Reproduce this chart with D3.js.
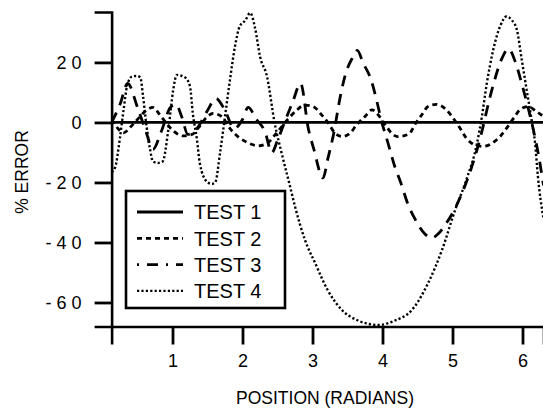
<!DOCTYPE html>
<html><head><meta charset="utf-8">
<script src="https://cdn.jsdelivr.net/npm/d3@7/dist/d3.min.js"></script>
<style>body{margin:0;background:#fff}svg{display:block}</style>
</head><body><svg id="c" width="543" height="415"></svg>
<script>
const seriesNames = ["TEST 1","TEST 2","TEST 3","TEST 4"];
const xTicks = [1,2,3,4,5,6];
const yTicks = [20,0,-20,-40,-60];

const test1X = [0.13, 6.3];
const test1Y = [0, 0];

const test2X = [0.13,0.22,0.3,0.4,0.5,0.6,0.72,0.82,0.92,1.02,1.15,1.28,1.38,1.48,1.58,1.7,1.82,1.95,2.1,2.22,2.35,2.47,2.61,2.77,2.89,3.01,3.13,3.22,3.32,3.42,3.54,3.63,3.75,3.85,3.94,4.04,4.13,4.22,4.3,4.39,4.46,4.56,4.65,4.77,4.89,5.01,5.11,5.2,5.32,5.44,5.56,5.68,5.77,5.89,5.96,6.08,6.2,6.3];
const test2Y = [1,-2,-3.5,-1.5,1,3.5,5,2.5,-0.5,-3,-4.5,-4,-1.5,1.5,3,2,-2,-5,-7,-7.8,-7,-4,0,4,5.8,5.3,2.5,0,-3.5,-4.7,-3.5,-0.8,2,4.2,2.5,-0.8,-3.6,-4.7,-4.5,-3.6,-0.8,2.5,5.3,6,4.7,1.4,-2,-5.3,-7.5,-8,-7,-4.7,-2,2,4.2,5.3,3.6,2];

const test3X = [0.13,0.25,0.36,0.5,0.62,0.72,0.84,0.97,1.05,1.13,1.22,1.35,1.5,1.62,1.75,1.88,2.0,2.08,2.2,2.32,2.42,2.5,2.6,2.72,2.83,2.94,3.02,3.15,3.22,3.3,3.4,3.47,3.57,3.64,3.72,3.84,3.92,3.98,4.08,4.18,4.26,4.36,4.46,4.6,4.7,4.8,4.9,5.05,5.18,5.3,5.42,5.52,5.6,5.7,5.8,5.9,6.0,6.1,6.17,6.23,6.3];
const test3Y = [0,6,13,5,-3,-9,-3,5,6,2,-4,-2,4,8,4,-2,1,5,1,-3,-10,-6,0,7,13,-2,-9,-18.5,-12,-4,9,16,21.5,24,20,14,7,1,-7,-15,-20,-27,-32,-37,-38.5,-37,-34,-28,-21,-13,-3,7,14,21,24.5,20,12,3,-4,-11,-21];

const test4X = [0.13,0.18,0.25,0.3,0.35,0.42,0.49,0.54,0.58,0.63,0.68,0.72,0.79,0.86,0.94,1.01,1.06,1.18,1.25,1.29,1.35,1.39,1.49,1.56,1.61,1.68,1.75,1.82,1.89,1.96,2.04,2.11,2.18,2.25,2.35,2.46,2.56,2.68,2.75,2.89,3.04,3.22,3.42,3.65,3.94,4.18,4.42,4.65,4.85,5.04,5.2,5.35,5.42,5.49,5.58,5.68,5.77,5.85,5.92,5.99,6.06,6.13,6.18,6.22,6.3];
const test4Y = [-16.5,-15,-5,4,12,15.3,15.5,15,8.6,-1.4,-9,-13,-13.5,-13,-2.5,10.8,15.8,15,12,3,-5.8,-13.6,-19.7,-20.5,-20,-10,2,14,25,32,34,36.5,31.4,22,15.3,-0.3,-10.3,-21.4,-28,-39,-47,-56,-62.5,-66,-67.5,-66,-62.5,-53.6,-42.5,-29,-19,-7,2,13,24,32,35.3,34,30.8,20.8,10.8,0.8,-7,-18,-32];

const svg = d3.select("#c");
const x = d3.scaleLinear().domain([0.13, 6.3]).range([111.6, 543.5]);
const y = d3.scaleLinear().domain([-68, 36.8]).range([326.5, 12]);
const font = "'Liberation Sans', Arial, Helvetica, sans-serif";

svg.append("defs").append("clipPath").attr("id","clip")
  .append("rect").attr("x",x.range()[0]).attr("y",y.range()[1])
  .attr("width",x.range()[1]-x.range()[0]).attr("height",y.range()[0]-y.range()[1]);

const styles = [
  {dash:null, w:2.8},
  {dash:"5,4", w:2.8},
  {dash:"11,8", w:2.8},
  {dash:"2.2,2.2", w:2.4}
];
const data = [
  test1X.map((v,i)=>[v,test1Y[i]]),
  test2X.map((v,i)=>[v,test2Y[i]]),
  test3X.map((v,i)=>[v,test3Y[i]]),
  test4X.map((v,i)=>[v,test4Y[i]])
];
const line = d3.line().x(d=>x(d[0])).y(d=>y(d[1])).curve(d3.curveMonotoneX);
const g = svg.append("g").attr("clip-path","url(#clip)");
[3,2,1,0].forEach(i=>{
  g.append("path").attr("d",line(data[i])).attr("fill","none")
   .attr("stroke","#000").attr("stroke-width",styles[i].w)
   .attr("stroke-dasharray",styles[i].dash);
});

// axes
const xAxis = svg.append("g").attr("transform",`translate(0,${y.range()[0]})`)
  .call(d3.axisBottom(x).tickValues(xTicks).tickSize(18).tickPadding(10).tickFormat(d3.format("d")));
const yAxis = svg.append("g").attr("transform",`translate(${x.range()[0]},0)`)
  .call(d3.axisLeft(y).tickValues(yTicks).tickSize(17).tickPadding(13).tickFormat(d=>d<0?"- "+String(-d).split("").join(" "):String(d).split("").join(" ")));
[xAxis,yAxis].forEach(a=>{
  a.select(".domain").attr("stroke","#000").attr("stroke-width",2.6);
  a.selectAll(".tick line").attr("stroke","#000").attr("stroke-width",2.8);
  a.selectAll("text").attr("font-family",font).attr("font-size",18).attr("fill","#000");
});
yAxis.selectAll("text").attr("dy","0.35em");

svg.append("text").attr("x",325).attr("y",404).attr("text-anchor","middle")
  .attr("font-family",font).attr("font-size",17.5).text("POSITION (RADIANS)");
svg.append("text").attr("transform","translate(28,172) rotate(-90)").attr("text-anchor","middle")
  .attr("font-family",font).attr("font-size",17.5).text("% ERROR");

// legend
const lg = svg.append("g");
lg.append("rect").attr("x",126).attr("y",191).attr("width",159).attr("height",117)
  .attr("fill","#fff").attr("stroke","#000").attr("stroke-width",2.6);
seriesNames.forEach((n,i)=>{
  const cy = 212 + i*26.3;
  lg.append("line").attr("x1",137).attr("x2",183).attr("y1",cy).attr("y2",cy)
    .attr("stroke","#000").attr("stroke-width",styles[i].w)
    .attr("stroke-dasharray", i===2 ? "2,8,11,8" : styles[i].dash);
  lg.append("text").attr("x",194).attr("y",cy).attr("dy","0.36em")
    .attr("font-family",font).attr("font-size",20).text(n);
});
</script></body></html>
